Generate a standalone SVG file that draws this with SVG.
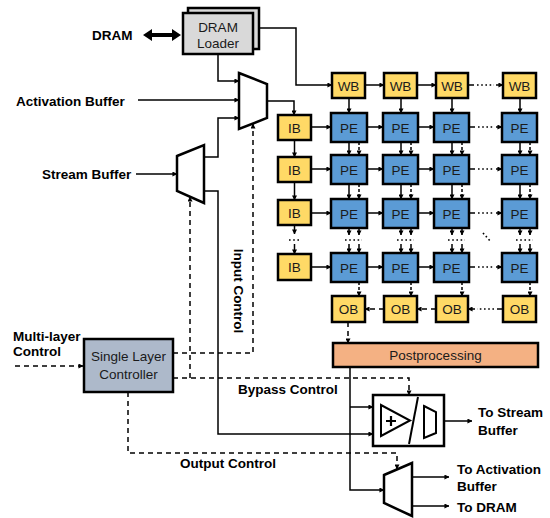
<svg xmlns="http://www.w3.org/2000/svg" width="550" height="518" viewBox="0 0 550 518">
<defs>
<marker id="ah" viewBox="0 0 6 6" refX="5.5" refY="3" markerWidth="5" markerHeight="5" markerUnits="userSpaceOnUse" orient="auto"><path d="M0,0 L6,3 L0,6 z" fill="#000"/></marker>
<style>
.lbl{font-family:"Liberation Sans",Arial,sans-serif;font-size:13.5px;font-weight:bold;fill:#000}
.txt{font-family:"Liberation Sans",Arial,sans-serif;font-size:13.5px;fill:#1a1a1a;text-anchor:middle}
.yb{fill:#ffd966;stroke:#000;stroke-width:2.5}
.pe{fill:#5b9bd5;stroke:#000;stroke-width:2.5}
.mux{fill:#fff;stroke:#000;stroke-width:2.5;stroke-linejoin:miter}
.c{fill:none;stroke:#000;stroke-width:1.5}
.a{fill:none;stroke:#000;stroke-width:1.5;marker-end:url(#ah)}
.d{fill:none;stroke:#000;stroke-width:1.5;stroke-dasharray:5 4}
.da{fill:none;stroke:#000;stroke-width:1.5;stroke-dasharray:5 4;marker-end:url(#ah)}
.sd{fill:none;stroke:#000;stroke-width:1.5;stroke-dasharray:3 2;marker-end:url(#ah)}
.dot{fill:none;stroke:#000;stroke-width:1.6;stroke-dasharray:1.6 2.6}
</style>
</defs>

<!-- labels -->
<g id="labels">
<text class="lbl" x="92" y="40">DRAM</text>
<text class="lbl" x="16" y="106">Activation Buffer</text>
<text class="lbl" x="42" y="179">Stream Buffer</text>
<text class="lbl" x="13" y="341">Multi-layer</text>
<text class="lbl" x="13" y="356">Control</text>
<text class="lbl" transform="translate(234,291) rotate(90)" text-anchor="middle">Input Control</text>
<text class="lbl" x="238" y="394">Bypass Control</text>
<text class="lbl" x="180" y="468">Output Control</text>
<text class="lbl" x="478" y="417">To Stream</text>
<text class="lbl" x="478" y="435">Buffer</text>
<text class="lbl" x="457" y="474">To Activation</text>
<text class="lbl" x="457" y="491">Buffer</text>
<text class="lbl" x="457" y="512">To DRAM</text>
</g>

<!-- connectors -->
<g id="connectors">
<polygon points="143,35 152,29 152,33 172,33 172,29 181,35 172,41 172,37 152,37 152,41" fill="#000"/>
<path class="a" d="M218,54 V81 H239"/>
<path class="a" d="M138,100 H239"/>
<path class="a" d="M204,157 H218 V118 H239"/>
<path class="a" d="M204,191 H218 V434 H373"/>
<path class="a" d="M136,174 H177"/>
<path class="a" d="M267,101 H294 V115"/>
<path class="a" d="M259,28 H296 V85 H332"/>
<path class="a" d="M350,367 V490 H384"/>
<path class="a" d="M350,407 H373"/>
<path class="a" d="M444,421 H472"/>
<path class="a" d="M412,477 H449"/>
<path class="a" d="M412,506 H449"/>
<!-- control dashed -->
<path class="da" d="M15,366 H83"/>
<path class="da" d="M173,353 H253 V124"/>
<path class="da" d="M173,378 H409 V395"/>
<path class="da" d="M190,378 V197"/>
<path class="da" d="M128,392 V453 H397 V469"/>

<!-- WB chain -->
<path class="a" d="M365,85 H384"/>
<path class="a" d="M417,85 H436"/>
<path class="c" d="M468,85 H474"/>
<path class="dot" d="M477,85 H494"/>
<path class="a" d="M496,85 H503"/>
<!-- WB to PE -->
<path class="a" d="M349,98 V113"/>
<path class="a" d="M401,98 V113"/>
<path class="a" d="M452,98 V113"/>
<path class="a" d="M520,98 V113"/>

<!-- IB to PE and PE chains -->
<g id="rowarrows">
<path class="a" d="M311,127 H331"/><path class="a" d="M367,127 H383"/><path class="a" d="M418,127 H434"/>
<path class="c" d="M469,127 H475"/><path class="dot" d="M478,127 H494"/><path class="a" d="M496,127 H502"/>
<path class="a" d="M311,169 H331"/><path class="a" d="M367,169 H383"/><path class="a" d="M418,169 H434"/>
<path class="c" d="M469,169 H475"/><path class="dot" d="M478,169 H494"/><path class="a" d="M496,169 H502"/>
<path class="a" d="M311,213 H331"/><path class="a" d="M367,213 H383"/><path class="a" d="M418,213 H434"/>
<path class="c" d="M469,213 H475"/><path class="dot" d="M478,213 H494"/><path class="a" d="M496,213 H502"/>
<path class="a" d="M311,267 H331"/><path class="a" d="M367,267 H383"/><path class="a" d="M418,267 H434"/>
<path class="c" d="M469,267 H475"/><path class="dot" d="M478,267 H494"/><path class="a" d="M496,267 H502"/>
</g>

<!-- IB verticals -->
<path class="a" d="M294.5,140 V157"/>
<path class="a" d="M294.5,182 V200"/>
<path class="a" d="M294.5,225 V234"/>
<path class="dot" d="M289,240 H300"/>
<path class="a" d="M294.5,244 V254"/>

<!-- PE verticals -->
<g id="colarrows">
<path class="a" d="M349,142 V155"/><path class="sd" d="M359,142 V155"/>
<path class="a" d="M401,142 V155"/><path class="sd" d="M411,142 V155"/>
<path class="a" d="M452,142 V155"/><path class="sd" d="M462,142 V155"/>
<path class="a" d="M520,142 V155"/><path class="sd" d="M530,142 V155"/>
<path class="a" d="M349,184 V199"/><path class="sd" d="M359,184 V199"/>
<path class="a" d="M401,184 V199"/><path class="sd" d="M411,184 V199"/>
<path class="a" d="M452,184 V199"/><path class="sd" d="M462,184 V199"/>
<path class="a" d="M520,184 V199"/><path class="sd" d="M530,184 V199"/>
<path class="a" d="M349,228 V235"/><path class="a" d="M359,228 V235"/>
<path class="a" d="M401,228 V235"/><path class="a" d="M411,228 V235"/>
<path class="a" d="M452,228 V235"/><path class="a" d="M462,228 V235"/>
<path class="a" d="M520,228 V235"/><path class="a" d="M530,228 V235"/>
<path class="dot" d="M345,240 H362"/><path class="dot" d="M397,240 H414"/><path class="dot" d="M448,240 H465"/><path class="dot" d="M516,240 H533"/>
<path class="a" d="M349,244 V253"/><path class="a" d="M359,244 V253"/>
<path class="a" d="M401,244 V253"/><path class="a" d="M411,244 V253"/>
<path class="a" d="M452,244 V253"/><path class="a" d="M462,244 V253"/>
<path class="a" d="M520,244 V253"/><path class="a" d="M530,244 V253"/>
<path class="dot" d="M483,233 L491,242"/>
<!-- PE to OB -->
<path class="sd" d="M359,282 V296"/>
<path class="sd" d="M411,282 V296"/>
<path class="sd" d="M462,282 V296"/>
<path class="sd" d="M530,282 V296"/>
</g>
<!-- OB chain -->
<path class="da" d="M384,309 H365"/>
<path class="da" d="M436,309 H417"/>
<path class="c" d="M503,309 H497"/>
<path class="dot" d="M494,309 H477"/>
<path class="a" d="M475,309 H468"/>
<path class="da" d="M348,322 V343"/>
</g>

<!-- DRAM Loader -->
<g id="dram-loader">
<rect x="188" y="8" width="71" height="41" fill="#d9d9d9" stroke="#000" stroke-width="2.5"/>
<rect x="183" y="13" width="70" height="41" fill="#d9d9d9" stroke="#000" stroke-width="2.5"/>
<text class="txt" x="218" y="32">DRAM</text>
<text class="txt" x="218" y="48">Loader</text>
</g>

<g id="mux-input"><polygon class="mux" points="239,73 267,84 267,118 239,129"/></g>
<g id="mux-stream"><polygon class="mux" points="177,156 204,145 204,203 177,191"/></g>
<g id="mux-output"><polygon class="mux" points="384,475 412,463 412,516 384,503"/></g>

<g id="controller">
<rect x="84" y="339" width="89" height="53" fill="#adb9ca" stroke="#000" stroke-width="2.5"/>
<text class="txt" x="128.5" y="361">Single Layer</text>
<text class="txt" x="128.5" y="379">Controller</text>
</g>

<g id="bypass-unit">
<rect x="373" y="395" width="71" height="51" fill="#fff" stroke="#000" stroke-width="2.5"/>
<polygon points="381,405 381,436 410,420.5" fill="none" stroke="#000" stroke-width="2"/>
<path d="M386,421 H396 M391,416 V426" stroke="#000" stroke-width="2.2" fill="none"/>
<path d="M409,444 L418,397" stroke="#000" stroke-width="2" fill="none"/>
<polygon points="424,406 436,412 436,433 424,438" fill="none" stroke="#000" stroke-width="2"/>
</g>

<g id="postprocessing">
<rect x="333" y="343" width="205" height="24" fill="#f4b183" stroke="#000" stroke-width="2.5"/>
<text class="txt" x="435.5" y="360">Postprocessing</text>
</g>

<!-- WB -->
<g id="wb1"><rect class="yb" x="332" y="73" width="33" height="25"/><text class="txt" x="348.5" y="90.5">WB</text></g>
<g id="wb2"><rect class="yb" x="384" y="73" width="33" height="25"/><text class="txt" x="400.5" y="90.5">WB</text></g>
<g id="wb3"><rect class="yb" x="436" y="73" width="32" height="25"/><text class="txt" x="452" y="90.5">WB</text></g>
<g id="wb4"><rect class="yb" x="503" y="73" width="33" height="25"/><text class="txt" x="519.5" y="90.5">WB</text></g>

<!-- IB -->
<g id="ib1"><rect class="yb" x="278" y="115" width="33" height="25"/><text class="txt" x="294.5" y="132.5">IB</text></g>
<g id="ib2"><rect class="yb" x="278" y="157" width="33" height="25"/><text class="txt" x="294.5" y="174.5">IB</text></g>
<g id="ib3"><rect class="yb" x="278" y="200" width="33" height="25"/><text class="txt" x="294.5" y="217.5">IB</text></g>
<g id="ib4"><rect class="yb" x="278" y="254" width="33" height="26"/><text class="txt" x="294.5" y="272">IB</text></g>

<!-- PE -->
<g id="pe11"><rect class="pe" x="331" y="113" width="36" height="29"/><text class="txt" x="349" y="132.5">PE</text></g>
<g id="pe12"><rect class="pe" x="383" y="113" width="35" height="29"/><text class="txt" x="400.5" y="132.5">PE</text></g>
<g id="pe13"><rect class="pe" x="434" y="113" width="35" height="29"/><text class="txt" x="451.5" y="132.5">PE</text></g>
<g id="pe14"><rect class="pe" x="502" y="113" width="35" height="29"/><text class="txt" x="519.5" y="132.5">PE</text></g>
<g id="pe21"><rect class="pe" x="331" y="155" width="36" height="29"/><text class="txt" x="349" y="174.5">PE</text></g>
<g id="pe22"><rect class="pe" x="383" y="155" width="35" height="29"/><text class="txt" x="400.5" y="174.5">PE</text></g>
<g id="pe23"><rect class="pe" x="434" y="155" width="35" height="29"/><text class="txt" x="451.5" y="174.5">PE</text></g>
<g id="pe24"><rect class="pe" x="502" y="155" width="35" height="29"/><text class="txt" x="519.5" y="174.5">PE</text></g>
<g id="pe31"><rect class="pe" x="331" y="199" width="36" height="29"/><text class="txt" x="349" y="218.5">PE</text></g>
<g id="pe32"><rect class="pe" x="383" y="199" width="35" height="29"/><text class="txt" x="400.5" y="218.5">PE</text></g>
<g id="pe33"><rect class="pe" x="434" y="199" width="35" height="29"/><text class="txt" x="451.5" y="218.5">PE</text></g>
<g id="pe34"><rect class="pe" x="502" y="199" width="35" height="29"/><text class="txt" x="519.5" y="218.5">PE</text></g>
<g id="pe41"><rect class="pe" x="331" y="253" width="36" height="29"/><text class="txt" x="349" y="272.5">PE</text></g>
<g id="pe42"><rect class="pe" x="383" y="253" width="35" height="29"/><text class="txt" x="400.5" y="272.5">PE</text></g>
<g id="pe43"><rect class="pe" x="434" y="253" width="35" height="29"/><text class="txt" x="451.5" y="272.5">PE</text></g>
<g id="pe44"><rect class="pe" x="502" y="253" width="35" height="29"/><text class="txt" x="519.5" y="272.5">PE</text></g>

<!-- OB -->
<g id="ob1"><rect class="yb" x="332" y="296" width="33" height="26"/><text class="txt" x="348.5" y="314">OB</text></g>
<g id="ob2"><rect class="yb" x="384" y="296" width="33" height="26"/><text class="txt" x="400.5" y="314">OB</text></g>
<g id="ob3"><rect class="yb" x="436" y="296" width="32" height="26"/><text class="txt" x="452" y="314">OB</text></g>
<g id="ob4"><rect class="yb" x="503" y="296" width="33" height="26"/><text class="txt" x="519.5" y="314">OB</text></g>
</svg>
